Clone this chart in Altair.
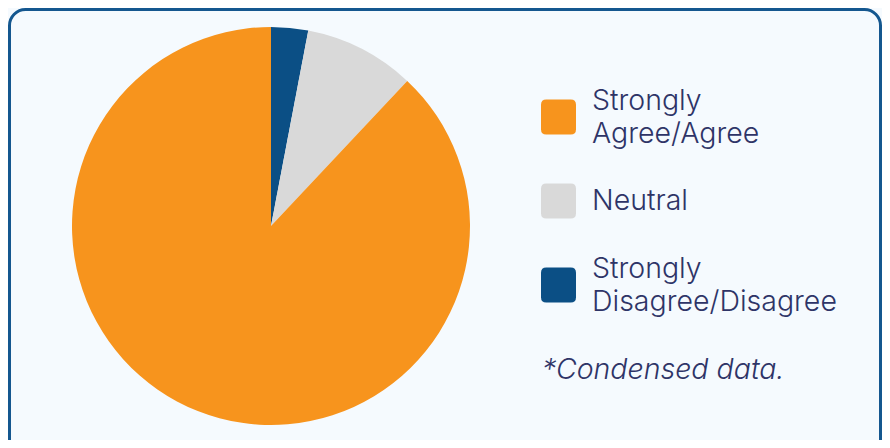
import altair as alt
import pandas as pd

categories = ["Strongly Disagree/Disagree", "Neutral", "Strongly Agree/Agree"]
values = [3, 9, 88]
slice_order = [1, 2, 3]
colors = ["#0b4f85", "#d9d9d9", "#f7941d"]

legend_cats = ["Strongly Agree/Agree", "Neutral", "Strongly Disagree/Disagree"]
legend_labels = ["Strongly\nAgree/Agree", "Neutral", "Strongly\nDisagree/Disagree"]
footnote = "*Condensed data."

TEXT = "#2e3467"
BG = "#f5fafe"
BORDER = "#14578f"
FONT = "Inter"

pie_df = pd.DataFrame({"cat": categories, "value": values, "order": slice_order})
leg_df = pd.DataFrame({"cat": legend_cats, "label": legend_labels})
note_df = pd.DataFrame({"t": [footnote]})

color_scale = alt.Scale(domain=legend_cats, range=[colors[2], colors[1], colors[0]])
y_scale = alt.Scale(domain=legend_cats, range=[109, 277], padding=0)

frame = alt.Chart(note_df).mark_rect(
    fill=BG, stroke=BORDER, strokeWidth=3, cornerRadius=16
).encode(
    x=alt.value(1.5), x2=alt.value(872.5), y=alt.value(1.5), y2=alt.value(452)
)

pie = alt.Chart(pie_df).mark_arc(radius=199).encode(
    theta=alt.Theta("value:Q", stack=True),
    color=alt.Color("cat:N", scale=color_scale, legend=None),
    order=alt.Order("order:Q"),
    x=alt.value(263),
    y=alt.value(218),
)

rounded = "M -0.7 -1 L 0.7 -1 Q 1 -1 1 -0.7 L 1 0.7 Q 1 1 0.7 1 L -0.7 1 Q -1 1 -1 0.7 L -1 -0.7 Q -1 -1 -0.7 -1 Z"

symbols = alt.Chart(leg_df).mark_point(
    shape=rounded, filled=True, size=1225, opacity=1
).encode(
    x=alt.value(550.5),
    y=alt.Y("cat:N", scale=y_scale, axis=None),
    color=alt.Color("cat:N", scale=color_scale, legend=None),
)

text_style = dict(align="left", baseline="middle", lineBreak="\n", lineHeight=33,
                  fontSize=28.5, font=FONT, fontWeight=300, color=TEXT)

labels_two = alt.Chart(leg_df).transform_filter(
    "indexof(datum.label, '\\n') >= 0"
).mark_text(dy=-16.5, **text_style).encode(
    x=alt.value(584),
    y=alt.Y("cat:N", scale=y_scale, axis=None),
    text="label:N",
)

labels_one = alt.Chart(leg_df).transform_filter(
    "indexof(datum.label, '\\n') < 0"
).mark_text(**text_style).encode(
    x=alt.value(584),
    y=alt.Y("cat:N", scale=y_scale, axis=None),
    text="label:N",
)

note = alt.Chart(note_df).mark_text(
    align="left", baseline="middle", fontSize=28.5, font=FONT, fontWeight=300,
    fontStyle="italic", color=TEXT
).encode(
    x=alt.value(534), y=alt.value(362), text="t:N"
)

chart = alt.layer(frame, pie, symbols, labels_two, labels_one, note).properties(
    width=874, height=432,
    autosize=alt.AutoSizeParams(type="fit", contains="padding"),
    padding=0,
    background=BG,
).configure_view(stroke=None)

chart.save("out.html", embed_options={"renderer": "svg", "actions": False})
